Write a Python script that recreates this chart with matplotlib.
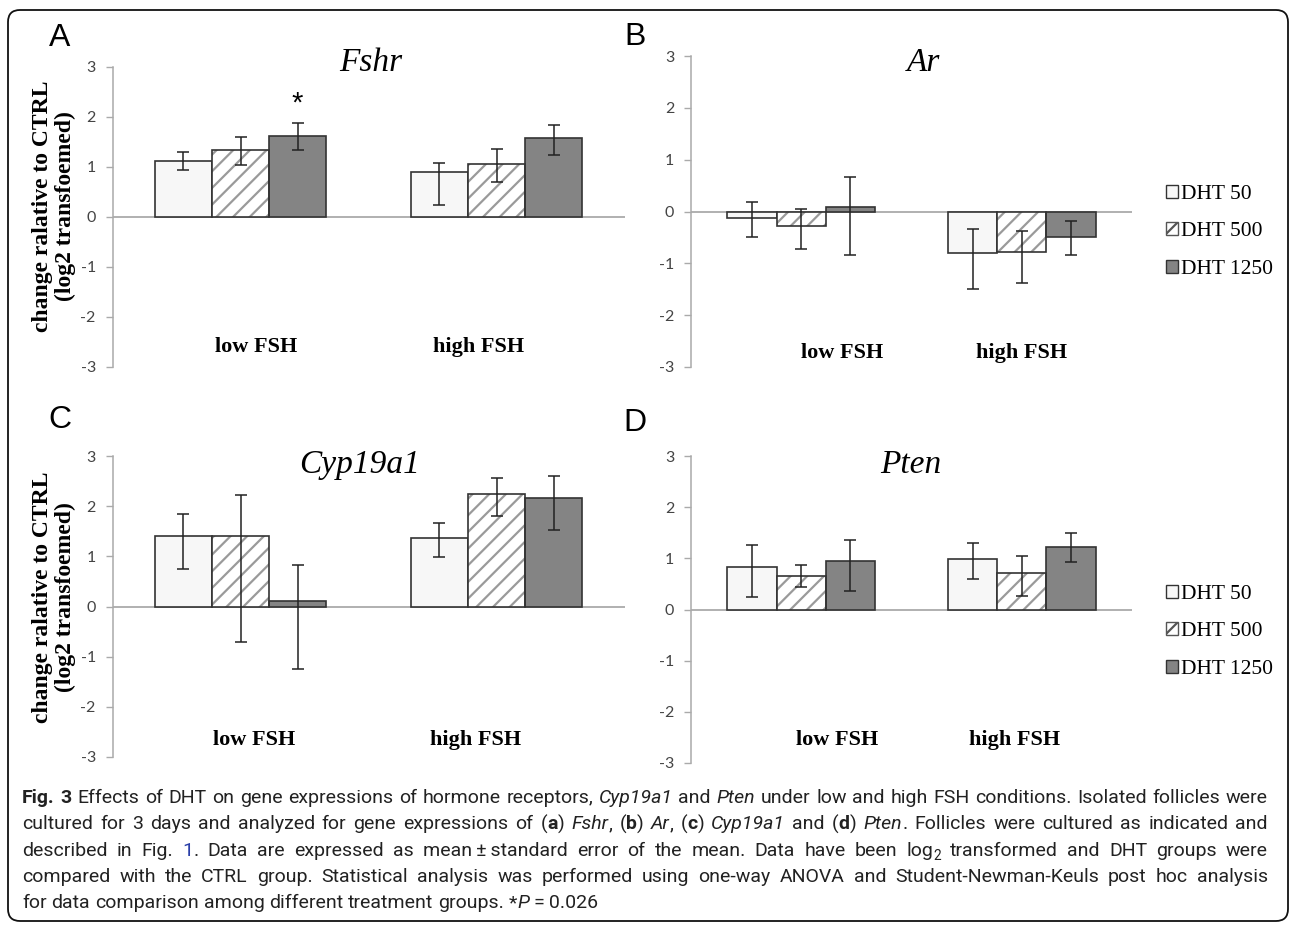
import re
import numpy as np
import matplotlib
matplotlib.use("Agg")
import matplotlib.pyplot as plt
from matplotlib import font_manager
from matplotlib.patches import FancyBboxPatch, Patch

W, H = 1293, 925

groups = ["low FSH", "high FSH"]
doses = ["DHT 50", "DHT 500", "DHT 1250"]

# bar height, bottom and top of the error bar; one row per DHT dose, [low FSH, high FSH]
fshr_mean = [[1.13, 0.90], [1.34, 1.06], [1.63, 1.57]]
fshr_lo = [[0.94, 0.25], [1.04, 0.70], [1.33, 1.25]]
fshr_hi = [[1.31, 1.07], [1.60, 1.35], [1.88, 1.83]]

ar_mean = [[-0.12, -0.81], [-0.28, -0.79], [0.09, -0.49]]
ar_lo = [[-0.50, -1.49], [-0.72, -1.38], [-0.84, -0.84]]
ar_hi = [[0.19, -0.33], [0.05, -0.37], [0.66, -0.19]]

cyp_mean = [[1.40, 1.36], [1.40, 2.24], [0.11, 2.16]]
cyp_lo = [[0.75, 0.98], [-0.70, 1.80], [-1.24, 1.53]]
cyp_hi = [[1.84, 1.66], [2.22, 2.57], [0.82, 2.61]]

pten_mean = [[0.84, 0.98], [0.66, 0.71], [0.94, 1.23]]
pten_lo = [[0.25, 0.60], [0.44, 0.26], [0.37, 0.93]]
pten_hi = [[1.27, 1.29], [0.86, 1.05], [1.36, 1.49]]

yticks = [-3, -2, -1, 0, 1, 2, 3]

caption = [
    "<b>Fig. 3</b> Effects of DHT on gene expressions of hormone receptors, <i>Cyp19a1</i> and <i>Pten</i> under low and high FSH conditions. Isolated follicles were",
    "cultured for 3 days and analyzed for gene expressions of (<b>a</b>) <i>Fshr</i>, (<b>b</b>) <i>Ar</i>, (<b>c</b>) <i>Cyp19a1</i> and (<b>d</b>) <i>Pten</i>. Follicles were cultured as indicated and",
    "described in Fig. <c>1</c>. Data are expressed as mean\u2009\u00b1\u2009standard error of the mean. Data have been log<s>2</s> transformed and DHT groups were",
    "compared with the CTRL group. Statistical analysis was performed using one-way ANOVA and Student-Newman-Keuls post hoc analysis",
    "for data comparison among different treatment groups. *<i>P</i>\u2009=\u20090.026",
]

SERIF = "Liberation Serif"
installed = {f.name for f in font_manager.fontManager.ttflist}
CAP_FONT = "Liberation Sans Narrow" if "Liberation Sans Narrow" in installed else "Roboto"

plt.rcParams["hatch.linewidth"] = 1.6
plt.rcParams["axes.unicode_minus"] = False

fig = plt.figure(figsize=(W / 100, H / 100), dpi=100)


def px_axes(x0, x1, ytop, ybot):
    return fig.add_axes([x0 / W, 1 - ybot / H, (x1 - x0) / W, (ybot - ytop) / H])


def draw_panel(ax, means, lows, highs, title, title_pos, label_x, label_y):
    x = np.arange(len(groups))
    w = 0.223
    ax.axhline(0, color="#aaaaaa", lw=1.3, zorder=0.5)
    for i in range(len(doses)):
        xs = x + (i - 1) * w
        m = np.array(means[i])
        err = [m - np.array(lows[i]), np.array(highs[i]) - m]
        if i == 0:
            ax.bar(xs, m, w, color="#f7f7f7", edgecolor="#333333", lw=1.2, zorder=2)
        elif i == 1:
            ax.bar(xs, m, w, color="white", edgecolor="#9a9a9a", hatch="//", lw=0, zorder=2)
            ax.bar(xs, m, w, fill=False, edgecolor="#333333", lw=1.2, zorder=2.1)
        else:
            ax.bar(xs, m, w, color="#848484", edgecolor="#333333", lw=1.2, zorder=2)
        ax.errorbar(xs, m, yerr=err, fmt="none", ecolor="#222222", elinewidth=1.1,
                    capsize=4.5, capthick=1.1, zorder=3)
    ax.set_xlim(-0.5, 1.5)
    ax.set_ylim(-3, 3)
    ax.set_yticks(yticks)
    ax.set_xticks([])
    for s in ["top", "right", "bottom"]:
        ax.spines[s].set_visible(False)
    ax.spines["left"].set_color("#aaaaaa")
    ax.spines["left"].set_linewidth(1.1)
    ax.tick_params(axis="y", direction="out", length=5, width=1, color="#aaaaaa",
                   labelsize=11.5, labelcolor="#444444", pad=7)
    for lab in ax.get_yticklabels():
        lab.set_fontfamily("Lato")
    ax.patch.set_alpha(0)
    ax.text(title_pos[0], title_pos[1], title, transform=ax.transAxes, ha="center", va="center",
            fontsize=24, fontstyle="italic", fontfamily=SERIF)
    for gx, g in zip(label_x, groups):
        ax.text(gx, label_y, g, transform=ax.get_xaxis_transform(), ha="center", va="center",
                fontsize=16, fontweight="bold", fontfamily=SERIF)


def add_legend(ax, ytop):
    handles = [Patch(facecolor="#f7f7f7", edgecolor="#333333", lw=1),
               Patch(facecolor="white", edgecolor="#555555", hatch="//", lw=1),
               Patch(facecolor="#848484", edgecolor="#333333", lw=1)]
    ax.legend(handles, doses, loc="upper left", bbox_to_anchor=(1166 / W, 1 - ytop / H),
              bbox_transform=fig.transFigure, frameon=False, handlelength=0.55,
              handleheight=0.55, handletextpad=0.15, labelspacing=0.85, borderpad=0,
              borderaxespad=0, prop={"family": SERIF, "size": 15.5})


axA = px_axes(112.5, 624.5, 67, 367)
axB = px_axes(691, 1132, 56, 367)
axC = px_axes(112.5, 624.5, 456, 757)
axD = px_axes(691, 1132, 456, 763)

draw_panel(axA, fshr_mean, fshr_lo, fshr_hi, "Fshr", (0.505, 1.013), [0.06, 0.93], 0.067)
draw_panel(axB, ar_mean, ar_lo, ar_hi, "Ar", (0.528, 0.977), [0.185, 0.997], 0.045)
draw_panel(axC, cyp_mean, cyp_lo, cyp_hi, "Cyp19a1", (0.483, 0.97), [0.053, 0.92], 0.056)
draw_panel(axD, pten_mean, pten_lo, pten_hi, "Pten", (0.499, 0.97), [0.162, 0.969], 0.075)

# significance mark over DHT 1250, low FSH
axA.text(0 + 0.223, fshr_hi[2][0] + 0.38, "*", ha="center", va="center", fontsize=21,
         fontfamily="Liberation Sans")

add_legend(axB, 185)
add_legend(axD, 585)

for yc in (206, 597):
    fig.text(54 / W, 1 - yc / H, "change ralative to CTRL\n(log2 transfoemed)", rotation=90,
             ha="center", va="center", fontsize=17, fontweight="bold", fontfamily=SERIF,
             linespacing=1.1, multialignment="center")

for letter, lx, ly in [("A", 60, 38), ("B", 635, 37), ("C", 60, 420), ("D", 635, 423)]:
    fig.text(lx / W, 1 - ly / H, letter, ha="center", va="center", fontsize=23,
             fontfamily="Liberation Sans")

# outer frame
fig.patches.append(FancyBboxPatch((8 / 100, 4 / 100), 1280 / 100, 911 / 100,
                                  boxstyle="round,pad=0,rounding_size=0.12",
                                  transform=fig.dpi_scale_trans, fill=False,
                                  edgecolor="#111111", lw=1.3))

# caption, justified word by word
renderer = fig.canvas.get_renderer()
cap_size = 14


def parse(line):
    words, cur, state = [], [], set()
    for tok in re.split(r"(</?[bics]>)", line):
        if re.fullmatch(r"</?[bics]>", tok):
            if tok[1] == "/":
                state.discard(tok[2])
            else:
                state.add(tok[1])
            continue
        parts = tok.split(" ")
        for k, part in enumerate(parts):
            if k > 0:
                if cur:
                    words.append(cur)
                cur = []
            if part:
                cur.append((part, frozenset(state)))
    if cur:
        words.append(cur)
    return words


def props(st):
    p = {"fontfamily": CAP_FONT, "fontsize": cap_size * (0.7 if "s" in st else 1),
         "color": "#2a3fa8" if "c" in st else "#222222"}
    if "b" in st:
        p["fontweight"] = "bold"
    if "i" in st:
        p["fontstyle"] = "italic"
    return p


def width(txt, st):
    t = fig.text(0, 0, txt, **props(st))
    wpx = t.get_window_extent(renderer).width
    t.remove()
    return wpx


space_w = width("a a", frozenset()) - width("aa", frozenset())
left, right = 22, 1268
for n, line in enumerate(caption):
    words = parse(line)
    wlens = [[width(t, st) for t, st in wd] for wd in words]
    total = sum(sum(w) for w in wlens)
    if n < len(caption) - 1:
        gap = (right - left - total) / (len(words) - 1)
    else:
        gap = space_w
    base = 803 + n * 26.3
    xcur = left
    for wd, wl in zip(words, wlens):
        for (t, st), wpx in zip(wd, wl):
            yoff = 4 if "s" in st else 0
            fig.text(xcur / W, 1 - (base + yoff) / H, t, va="baseline", ha="left", **props(st))
            xcur += wpx
        xcur += gap

fig.savefig("out.png", dpi=100)
